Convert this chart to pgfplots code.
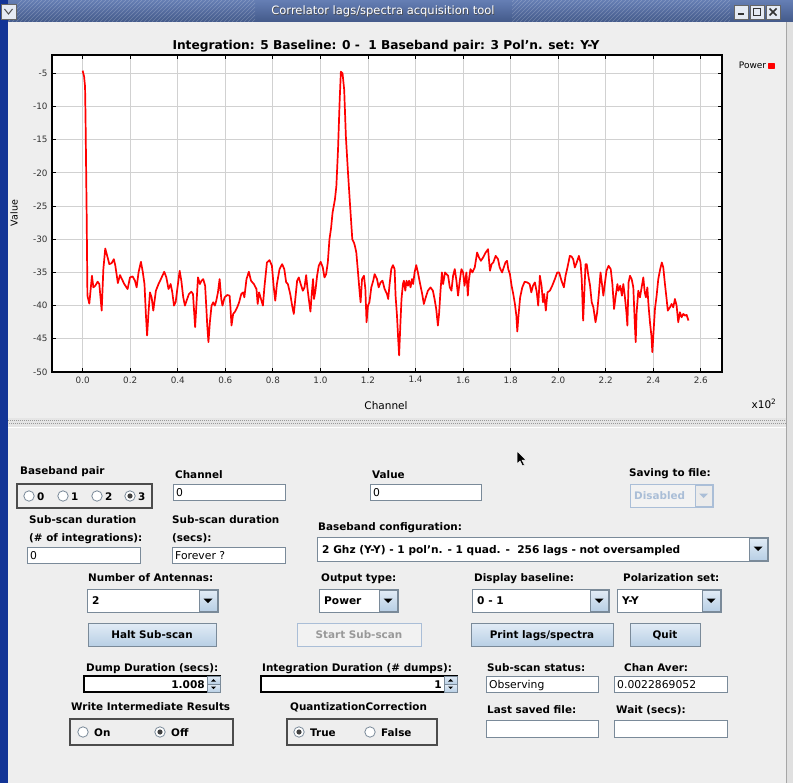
\documentclass[border=0pt]{standalone}
\usepackage{fontspec}
\setmainfont{DejaVu Sans}
\usepackage{pgfplots}
\pgfplotsset{compat=1.18}

\definecolor{panel}{RGB}{238,238,238}
\definecolor{frameblue}{RGB}{18,52,150}
\definecolor{titleblue}{RGB}{84,112,172}
\definecolor{metal}{RGB}{122,138,153}
\definecolor{btntop}{RGB}{226,236,246}
\definecolor{btnbot}{RGB}{184,207,229}
\definecolor{disabledtxt}{RGB}{170,190,215}

% power spectrum of the selected baseline (channel, dB)
\pgfplotstableread{
ch val
0 -4.6
0.6 -5.5
1.0 -7.0
1.2 -11.5
1.7 -27
2.0 -38.5
2.8 -39.7
3.9 -35.5
4.5 -37.25
5.3 -37
6.3 -36.4
7.0 -36.75
8.0 -40.75
8.7 -34.5
9.5 -31.4
10.5 -32.75
11.2 -33.75
12.2 -33.6
13.1 -33
13.7 -33.9
14.8 -36.6
15.7 -35.4
16.5 -36
17.5 -36.75
18.9 -37.5
19.9 -35.75
21.0 -35.6
22.0 -36.25
22.7 -37.25
23.5 -35
24.5 -33.4
25.2 -34.75
26.0 -36.75
26.6 -41.4
27.1 -44.5
27.7 -41
28.3 -38
29.0 -38.75
29.7 -40.75
30.8 -37.75
31.9 -36.75
32.9 -36
34.3 -34.9
35.2 -35.75
36.1 -37.5
37.0 -36.75
37.7 -38
38.4 -40
39.1 -39.5
39.8 -37.5
40.8 -34.75
41.5 -36.25
42.3 -38.75
43.0 -40
43.7 -39.25
44.7 -38.25
45.7 -37.9
46.4 -38.25
46.8 -40.5
47.3 -43.25
47.9 -39.5
48.5 -35.75
49.3 -36.75
50.0 -36.25
50.7 -36
51.5 -37
52.0 -40.25
52.4 -43
52.9 -45.5
53.5 -42.5
54.2 -40
54.9 -39.5
55.6 -40
56.2 -39.25
56.9 -38
57.6 -36
58.3 -39
58.8 -40
59.7 -38.75
60.8 -38.4
61.8 -38.5
62.2 -40.5
62.6 -43
63.3 -41.25
64.1 -40.9
65.0 -40.25
65.8 -39.5
66.7 -38.25
67.5 -38
68.0 -38.75
68.9 -36
69.9 -34.9
70.8 -36.25
72.0 -36.75
73.1 -37.5
73.6 -39.75
74.2 -38
74.8 -38.75
75.8 -40
76.5 -37
77.5 -33.5
78.6 -33.15
79.6 -34
80.3 -37
81.0 -39.25
81.7 -36.75
82.8 -34.5
83.9 -33.75
84.8 -34.5
85.6 -36.5
86.3 -36.75
87.3 -38.25
88.1 -40
88.8 -41.25
89.5 -38.75
90.2 -36.25
90.9 -35.75
91.7 -36.75
92.6 -37.75
93.3 -37.25
94.0 -35.4
94.5 -37.25
95.1 -39
95.8 -40.9
96.4 -38
96.9 -36
97.3 -39
97.9 -37.75
98.6 -35.5
99.3 -34
100.1 -33.4
101.0 -34.25
101.7 -35.75
102.4 -35.25
103.1 -33.5
103.8 -30
104.5 -28.25
105.1 -26
106.1 -24
106.7 -22
107.4 -16.5
108.1 -9
108.6 -4.75
109.3 -5
110.0 -7.5
110.7 -14.5
111.6 -20
112.4 -24.5
113.4 -30
114.1 -30.5
114.5 -31
115.1 -32
115.8 -35
116.5 -38
116.9 -39.5
117.5 -36
118.3 -35.5
118.9 -37.5
119.4 -42.5
120.0 -40
120.6 -39.5
121.4 -37.25
122.2 -36.25
122.8 -35.25
123.8 -36
124.5 -37.25
125.3 -36.5
126.1 -36.25
127.0 -37.5
128.0 -38.25
128.5 -39
129.1 -36.75
129.8 -34.5
130.5 -33.9
131.2 -34.5
131.6 -38.5
132.2 -41.5
132.7 -45
133.1 -47.5
133.6 -43
134.1 -39
134.7 -36.75
135.1 -36.25
135.7 -37.75
136.2 -36.25
136.8 -37
137.3 -36.25
137.9 -37.25
138.5 -36
139.0 -36.75
139.6 -35
140.3 -33.9
141.0 -35
141.8 -36.5
142.8 -38.25
143.5 -39.75
144.3 -38.75
145.2 -37.75
146.3 -37.25
147.3 -37.75
148.0 -39
148.7 -40.5
149.4 -43
149.9 -41.25
150.5 -37.75
151.1 -35
151.6 -36.75
152.4 -35
153.0 -35.25
153.7 -35.5
154.4 -37.25
155.1 -37.75
155.8 -35.5
156.5 -34.5
157.2 -36.25
157.9 -38.5
158.6 -36.25
159.3 -34.5
160.0 -35
160.6 -37
161.4 -35
162.0 -38.5
162.4 -36.25
163.1 -34.5
163.9 -35
164.9 -34.25
165.9 -32
166.7 -32.75
167.5 -33.25
168.4 -32.75
169.5 -32
170.5 -31.5
171.3 -34.75
172.0 -33.75
172.7 -33.5
173.7 -32.5
174.7 -33
175.4 -34.25
176.4 -35
177.1 -34.25
177.8 -33.5
178.5 -33.25
179.0 -34.5
179.7 -35.25
180.4 -37
181.1 -38.25
181.8 -39.75
182.4 -41.5
182.8 -43.9
183.3 -41.5
184.0 -38.75
184.9 -37.25
185.9 -36.4
187.0 -36.5
188.0 -36.75
188.7 -38
189.4 -37
190.2 -36.5
191.0 -38
191.6 -40
192.3 -35.5
193.0 -37
193.6 -39.5
194.1 -38.25
194.8 -40.75
195.5 -38
196.5 -37.75
197.5 -37
198.6 -36
199.6 -35
200.4 -35
201.4 -36.25
202.4 -37.25
203.1 -35.5
203.9 -34.25
204.9 -32.5
205.6 -32.6
206.3 -33
207.0 -34.25
207.8 -33.5
208.7 -32.5
209.4 -33.5
209.9 -36
210.5 -42.25
211.0 -38
211.5 -33.75
212.0 -33.75
212.7 -35.5
213.4 -37
214.1 -39.5
214.8 -40.25
215.7 -42.5
216.4 -41
217.1 -38.25
217.8 -35
218.5 -37
219.0 -38.5
219.6 -36.75
220.3 -34.75
221.2 -34
222.1 -34.5
222.8 -36.75
223.5 -40.5
224.2 -38.5
224.9 -36.75
225.4 -37.75
226.1 -37
226.8 -38.5
227.4 -36.75
228.0 -38.5
228.7 -41
229.1 -43
229.6 -36.5
230.2 -35.5
230.9 -36
231.6 -37.25
232.2 -42.5
232.6 -45.5
233.0 -41
233.7 -37.75
234.4 -38.75
235.1 -37.25
235.8 -35.75
236.4 -38
236.9 -38.75
237.5 -37.25
238.0 -40
238.6 -42.5
239.2 -44.5
239.6 -47
240.1 -44
240.7 -40.5
241.4 -38.5
242.1 -36
242.9 -34.5
243.6 -33.5
244.2 -34.25
244.9 -36.75
245.6 -39
246.1 -40.75
247.0 -40.25
247.7 -39.75
248.4 -40.25
249.1 -39
249.8 -40
250.5 -42.5
251.2 -41
251.9 -41.75
252.6 -41.25
253.3 -41.5
254.0 -41.4
254.8 -42.25
}\spectrum

\tikzset{
  lbl/.style={anchor=base west, inner sep=0pt, font=\fontsize{10.4}{12}\bfseries\selectfont},
  txt/.style={anchor=base west, inner sep=0pt, font=\fontsize{10.8}{12}\selectfont},
  ctxt/.style={anchor=base west, inner sep=0pt, font=\fontsize{10.6}{12}\bfseries\selectfont},
  field/.style={draw=metal, fill=white, line width=0.8pt},
  button/.style={draw=metal, line width=0.9pt, top color=btntop, bottom color=btnbot},
  grpbox/.style={draw=black!70, line width=1.4pt},
}
% radio button: #1 = x, #2 = y (downwards), #3 = selected (1/0)
\newcommand{\radio}[3]{%
  \draw[metal, fill=white, line width=0.8pt] (#1,-#2) circle (5.2);
  \ifnum#3=1 \fill[black!75] (#1,-#2) circle (2.6);\fi}
% combo box: x1 y1 x2 y2 text
\newcommand{\combo}[5]{%
  \draw[field] (#1,-#2) rectangle (#3,-#4);
  \draw[button] (#3-19,-#2-1) rectangle (#3-1,-#4+1);
  \fill[black] (#3-14.5,-#2-9.5) -- (#3-5.5,-#2-9.5) -- (#3-10,-#2-14) -- cycle;
  \node[ctxt] at (#1+5,-#4+7.5) {#5};}
% spinner field with arrows
\newcommand{\spinner}[5]{%
  \draw[draw=black, line width=1.4pt, fill=white] (#1,-#2) rectangle (#3,-#4);
  \draw[button, line width=0.5pt] (#3-13,-#2) rectangle (#3,-#2/2-#4/2);
  \draw[button, line width=0.5pt] (#3-13,-#2/2-#4/2) rectangle (#3,-#4);
  \fill[black] (#3-9,-#2-5.5) -- (#3-4,-#2-5.5) -- (#3-6.5,-#2-3) -- cycle;
  \fill[black] (#3-9,-#4+5.5) -- (#3-4,-#4+5.5) -- (#3-6.5,-#4+3) -- cycle;
  \node[anchor=base east, inner sep=0pt, font=\fontsize{10.6}{12}\bfseries\selectfont] at (#3-15,-#4+3.5) {#5};}

\begin{document}
\begin{tikzpicture}[x=1pt, y=1pt]
% window frame and panel
\fill[panel] (0,0) rectangle (793,-783);
\fill[frameblue] (0,0) rectangle (8,-783);
\fill[black!12] (786,-22) rectangle (793,-783);
\draw[black!35, line width=0.8pt] (786,-22) -- (786,-783);
% title bar
\fill[top color=titleblue!90!white, bottom color=titleblue!80!black] (8,0) rectangle (793,-22);
\begin{scope}
  \clip (8,0) rectangle (255,-22) (512,0) rectangle (730,-22);
  \foreach \s in {0,4,...,800} \draw[white, opacity=0.22, line width=0.6pt] (\s,-22) -- (\s+22,0);
\end{scope}
\node[font=\fontsize{11.5}{13}\selectfont, text=black!70] at (383.8,-12.3) {Correlator lags/spectra acquisition tool};
\node[font=\fontsize{11.5}{13}\selectfont, text=white] at (383,-11.5) {Correlator lags/spectra acquisition tool};
\draw[black!60, fill=white!85!titleblue] (1,-4) rectangle (16,-19);
\draw[black!70, line width=1pt] (4.5,-9) -- (8.5,-14) -- (12.5,-9);
\foreach \bx in {734,750,766}{
  \draw[black!60, fill=white!85!titleblue] (\bx,-5) rectangle (\bx+14,-19);
}
\fill[black!80] (737.5,-13.5) rectangle (744,-15.5);
\draw[black!80, line width=1.2pt] (753.5,-8.5) rectangle (760.5,-15.5);
\draw[black!80, line width=1.5pt] (769.5,-8.5) -- (776.5,-15.5) (769.5,-15.5) -- (776.5,-8.5);

% spectrum plot
\begin{axis}[
  at={(52pt,-372pt)}, anchor=south west,
  scale only axis, width=670pt, height=317pt,
  xmin=-12.9, xmax=268.9, ymin=-50, ymax=-2.24,
  axis background/.style={fill=white},
  xtick={0,20,...,260},
  xticklabels={0.0,0.2,0.4,0.6,0.8,1.0,1.2,1.4,1.6,1.8,2.0,2.2,2.4,2.6},
  ytick={-50,-45,...,-5},
  yticklabels={-50,-45,-40,-35,-30,-25,-20,-15,-10,-5},
  grid=major,
  major grid style={draw=black!18, line width=0.9pt},
  axis line style={line width=1.3pt},
  tick style={black, line width=0.9pt},
  major tick length=4pt,
  tick align=inside,
  ticklabel style={font=\fontsize{8.8}{10}\selectfont, text=black!80},
  xticklabel style={yshift=-1pt},
  yticklabel style={xshift=-1pt},
  legend plot pos=right,
  legend style={at={(1.022,0.985)}, anchor=north west, draw=none, fill=none,
    font=\fontsize{9}{10}\selectfont, inner sep=0pt, row sep=0pt},
  legend image code/.code={\fill[red] (0pt,-2.5pt) rectangle (5pt,2.5pt);},
]
\addplot[red, line width=1.7pt, line join=round] table[x=ch, y=val] {\spectrum};
\addlegendentry{Power}
\end{axis}
\node[font=\fontsize{12.2}{14}\bfseries\selectfont] at (386,-46) {Integration: 5 Baseline: 0 -\ \ 1 Baseband pair: 3 Pol'n. set: Y-Y};
\node[rotate=90, font=\fontsize{9.5}{11}\selectfont] at (14,-213) {Value};
\node[font=\fontsize{10.5}{12}\selectfont] at (386,-406) {Channel};
\node[font=\fontsize{10.5}{12}\selectfont] at (764,-404) {x10\textsuperscript{2}};

% splitter
\fill[black!10] (8,-418) rectangle (786,-427);
\draw[black!40, line width=0.6pt, dash pattern=on 1pt off 1pt] (8,-420) -- (786,-420);
\draw[black!40, line width=0.6pt, dash pattern=on 1pt off 1pt] (9,-423) -- (786,-423);
\draw[white, line width=0.8pt] (8,-427.5) -- (786,-427.5);

% mouse pointer
\filldraw[black, draw=white, line width=0.5pt] (517,-451) -- (517,-464) -- (520,-461) -- (522.5,-466) -- (524.5,-465) -- (522,-460) -- (526,-460) -- cycle;

% control panel
\node[lbl] at (20,-474) {Baseband pair};
\draw[grpbox] (17,-484) rectangle (152,-508);
\radio{29}{496}{0} \node[lbl] at (37,-500) {0};
\radio{63}{496}{0} \node[lbl] at (71,-500) {1};
\radio{97}{496}{0} \node[lbl] at (105,-500) {2};
\radio{130}{496}{1} \node[lbl] at (138,-500) {3};

\node[lbl] at (175,-478) {Channel};
\draw[field] (173,-484) rectangle (285,-500); \node[txt] at (176,-496) {0};
\node[lbl] at (372,-478) {Value};
\draw[field] (370,-484) rectangle (481,-500); \node[txt] at (373,-496) {0};
\node[lbl] at (629,-476) {Saving to file:};
\draw[draw=disabledtxt, fill=black!5, line width=0.8pt] (630,-484) rectangle (713,-507);
\draw[draw=disabledtxt, fill=black!8, line width=0.6pt] (695,-485) rectangle (712,-506);
\fill[disabledtxt] (699,-493.5) -- (708,-493.5) -- (703.5,-498) -- cycle;
\node[lbl, text=disabledtxt] at (634,-499.5) {Disabled};

\node[lbl] at (29,-523) {Sub-scan duration};
\node[lbl] at (29,-541) {(\# of integrations):};
\draw[field] (27,-547) rectangle (140,-563); \node[txt] at (30,-559) {0};
\node[lbl] at (172,-523) {Sub-scan duration};
\node[lbl] at (172,-541) {(secs):};
\draw[field] (172,-547) rectangle (285,-563); \node[txt] at (175,-559) {Forever ?};
\node[lbl] at (318,-530) {Baseband configuration:};
\combo{317}{537}{768}{561}{2 Ghz (Y-Y) - 1 pol'n. - 1 quad. -\ \ 256 lags - not oversampled}

\node[lbl] at (88,-581) {Number of Antennas:};
\combo{87}{589}{218}{612}{2}
\node[lbl] at (321,-581) {Output type:};
\combo{319}{589}{398}{612}{Power}
\node[lbl] at (474,-581) {Display baseline:};
\combo{472}{589}{609}{612}{0 - 1}
\node[lbl] at (623,-581) {Polarization set:};
\combo{617}{589}{721}{612}{Y-Y}

\draw[button] (88,-623) rectangle (216,-646); \node[lbl, anchor=base] at (152,-638.5) {Halt Sub-scan};
\draw[draw=disabledtxt, fill=black!5, line width=0.9pt] (297,-623) rectangle (421,-646); \node[lbl, anchor=base, text=black!40] at (359,-638.5) {Start Sub-scan};
\draw[button] (471,-623) rectangle (613,-646); \node[lbl, anchor=base] at (542,-638.5) {Print lags/spectra};
\draw[button] (630,-623) rectangle (700,-646); \node[lbl, anchor=base] at (665,-638.5) {Quit};

\node[lbl] at (86,-671) {Dump Duration (secs):};
\spinner{84}{676}{220}{692}{1.008}
\node[lbl] at (262,-671) {Integration Duration (\# dumps):};
\spinner{261}{676}{457}{692}{1}
\node[lbl] at (487,-671) {Sub-scan status:};
\draw[field] (486,-676) rectangle (598,-692); \node[txt] at (489,-688) {Observing};
\node[lbl] at (624,-671) {Chan Aver:};
\draw[field] (614,-676) rectangle (727,-692); \node[txt] at (617,-688) {0.0022869052};

\node[lbl] at (71,-710) {Write Intermediate Results};
\draw[grpbox] (70,-719) rectangle (233,-745);
\radio{83}{732}{0} \node[lbl] at (94,-736) {On};
\radio{160}{732}{1} \node[lbl] at (171,-736) {Off};
\node[lbl] at (290,-710) {QuantizationCorrection};
\draw[grpbox] (287,-719) rectangle (437,-745);
\radio{299}{732}{1} \node[lbl] at (310,-736) {True};
\radio{370}{732}{0} \node[lbl] at (381,-736) {False};
\node[lbl] at (487,-713) {Last saved file:};
\draw[field] (486,-720) rectangle (598,-737);
\node[lbl] at (616,-713) {Wait (secs):};
\draw[field] (614,-720) rectangle (727,-737);
\end{tikzpicture}
\end{document}
